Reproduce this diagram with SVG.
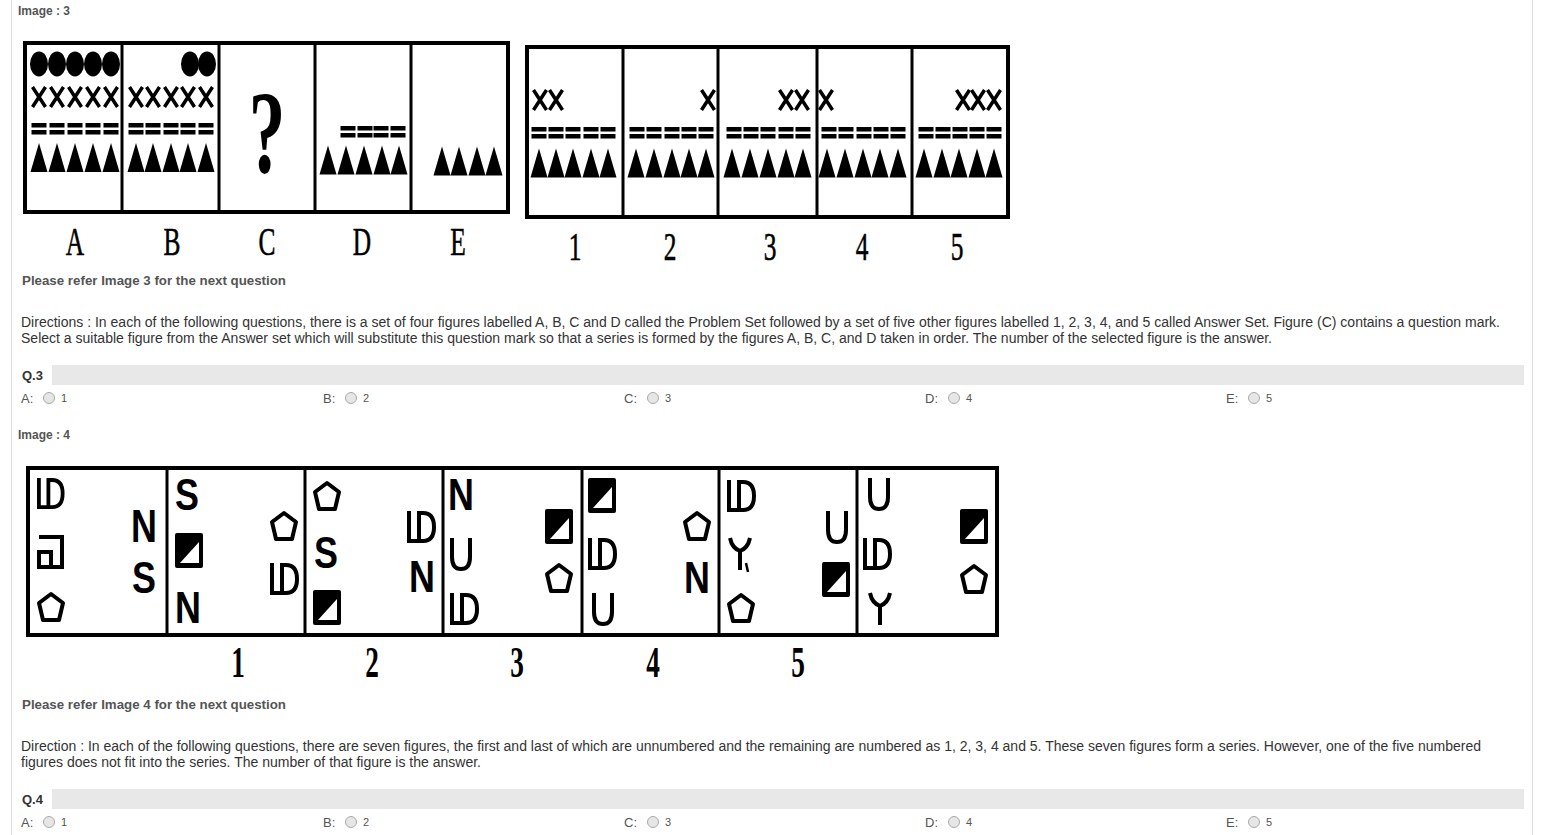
<svg xmlns="http://www.w3.org/2000/svg" width="1546" height="835" viewBox="0 0 1546 835">
<style>
.ui{font-family:"Liberation Sans",Arial,sans-serif;fill:#333;font-size:14px}
.hd{font-family:"Liberation Sans",Arial,sans-serif;fill:#555;font-size:12px;font-weight:bold}
.bd{font-family:"Liberation Sans",Arial,sans-serif;fill:#555;font-size:13px;font-weight:bold}
.q{font-family:"Liberation Sans",Arial,sans-serif;fill:#333;font-size:13px;font-weight:bold}
.opt{font-family:"Liberation Sans",Arial,sans-serif;fill:#555;font-size:13px}
.optn{font-family:"Liberation Sans",Arial,sans-serif;fill:#555;font-size:11px}
.bar{fill:#e8e8e8}
.radio{fill:#e6e6e6;stroke:#aaa;stroke-width:1}
.frame{fill:none;stroke:#000;stroke-width:4}
.div{stroke:#000;stroke-width:3}
.lbl{font-family:"Liberation Serif","Times New Roman",serif;font-size:41px;fill:#000;text-anchor:middle;stroke:#000;stroke-width:0.6}
.num4{font-family:"Liberation Serif","Times New Roman",serif;font-size:44px;font-weight:bold;fill:#000;text-anchor:middle}
.let{font-family:"Liberation Sans",Arial,sans-serif;font-size:46px;font-weight:bold;fill:#000;text-anchor:middle}
.stk{fill:none;stroke:#000;stroke-width:4}
</style>
<defs>
<ellipse id="circ" cx="0" cy="0" rx="9" ry="12.5" fill="#000"/>
<path id="xm" d="M-6.5,-10 L6.5,10 M6.5,-10 L-6.5,10" stroke="#000" stroke-width="3.5" fill="none"/>
<g id="eq"><rect x="-7.5" y="-6" width="15" height="4.5" fill="#000"/><rect x="-7.5" y="1" width="15" height="4.5" fill="#000"/></g>
<polygon id="tri" points="0,-14.5 8.5,14.5 -8.5,14.5" fill="#000"/>
<path id="ld" class="stk" d="M2,0 V30 H14 M12,0 V30 M12,2 H16 Q27,2 27,16 Q27,30 16,30 H12"/>
<polygon id="pent" class="stk" points="14,2 26,11 22,28 6,28 2,11" stroke-linejoin="round"/>
<g id="sqt"><rect x="0" y="0" width="28" height="35" rx="2" fill="#000"/><polygon points="5,30 24,9 24,30" fill="#fff"/></g>
<path id="u" class="stk" d="M2,0 V19 Q2,31 11,31 Q20,31 20,19 V0"/>
<path id="y" class="stk" d="M0,1 Q2,11 10,14 Q18,11 20,1 M10,14 V33"/>
<path id="boxs" class="stk" d="M1,2 H24 V32 H1 V17 H13 V32"/>
</defs>

<g id="page">
<line x1="11.5" y1="0" x2="11.5" y2="835" stroke="#ddd" stroke-width="1"/>
<line x1="1532.5" y1="0" x2="1532.5" y2="835" stroke="#ddd" stroke-width="1"/>
<text class="hd" x="18" y="15">Image : 3</text>
<text class="bd" x="22" y="285" textLength="264" lengthAdjust="spacingAndGlyphs">Please refer Image 3 for the next question</text>
<text class="ui" x="21" y="327" textLength="1479" lengthAdjust="spacingAndGlyphs">Directions : In each of the following questions, there is a set of four figures labelled A, B, C and D called the Problem Set followed by a set of five other figures labelled 1, 2, 3, 4, and 5 called Answer Set. Figure (C) contains a question mark.</text>
<text class="ui" x="21" y="343" textLength="1251" lengthAdjust="spacingAndGlyphs">Select a suitable figure from the Answer set which will substitute this question mark so that a series is formed by the figures A, B, C, and D taken in order. The number of the selected figure is the answer.</text>
<rect class="bar" x="52" y="365" width="1472" height="20"/>
<text class="q" x="22" y="380">Q.3</text>
<g id="opts3">
<text class="opt" x="21" y="403">A:</text><circle class="radio" cx="49" cy="398" r="5.5"/><text class="optn" x="61" y="402">1</text>
<text class="opt" x="323" y="403">B:</text><circle class="radio" cx="351" cy="398" r="5.5"/><text class="optn" x="363" y="402">2</text>
<text class="opt" x="624" y="403">C:</text><circle class="radio" cx="653" cy="398" r="5.5"/><text class="optn" x="665" y="402">3</text>
<text class="opt" x="925" y="403">D:</text><circle class="radio" cx="954" cy="398" r="5.5"/><text class="optn" x="966" y="402">4</text>
<text class="opt" x="1226" y="403">E:</text><circle class="radio" cx="1254" cy="398" r="5.5"/><text class="optn" x="1266" y="402">5</text>
</g>
<text class="hd" x="18" y="439">Image : 4</text>
<text class="bd" x="22" y="709" textLength="264" lengthAdjust="spacingAndGlyphs">Please refer Image 4 for the next question</text>
<text class="ui" x="21" y="751" textLength="1460" lengthAdjust="spacingAndGlyphs">Direction : In each of the following questions, there are seven figures, the first and last of which are unnumbered and the remaining are numbered as 1, 2, 3, 4 and 5. These seven figures form a series. However, one of the five numbered</text>
<text class="ui" x="21" y="767" textLength="460" lengthAdjust="spacingAndGlyphs">figures does not fit into the series. The number of that figure is the answer.</text>
<rect class="bar" x="52" y="789" width="1472" height="20"/>
<text class="q" x="22" y="804">Q.4</text>
<g id="opts4">
<text class="opt" x="21" y="827">A:</text><circle class="radio" cx="49" cy="822" r="5.5"/><text class="optn" x="61" y="826">1</text>
<text class="opt" x="323" y="827">B:</text><circle class="radio" cx="351" cy="822" r="5.5"/><text class="optn" x="363" y="826">2</text>
<text class="opt" x="624" y="827">C:</text><circle class="radio" cx="653" cy="822" r="5.5"/><text class="optn" x="665" y="826">3</text>
<text class="opt" x="925" y="827">D:</text><circle class="radio" cx="954" cy="822" r="5.5"/><text class="optn" x="966" y="826">4</text>
<text class="opt" x="1226" y="827">E:</text><circle class="radio" cx="1254" cy="822" r="5.5"/><text class="optn" x="1266" y="826">5</text>
</g>
</g>

<g id="problem-set">
<rect class="frame" x="25" y="43" width="483" height="169"/>
<line class="div" x1="122" y1="43" x2="122" y2="212"/>
<line class="div" x1="219" y1="43" x2="219" y2="212"/>
<line class="div" x1="315" y1="43" x2="315" y2="212"/>
<line class="div" x1="411" y1="43" x2="411" y2="212"/>
<g id="figA">
<use href="#circ" x="39" y="64"/><use href="#circ" x="57" y="64"/><use href="#circ" x="75" y="64"/><use href="#circ" x="93" y="64"/><use href="#circ" x="111" y="64"/>
<use href="#xm" x="39" y="97"/><use href="#xm" x="57" y="97"/><use href="#xm" x="75" y="97"/><use href="#xm" x="93" y="97"/><use href="#xm" x="111" y="97"/>
<use href="#eq" x="39" y="129"/><use href="#eq" x="57" y="129"/><use href="#eq" x="75" y="129"/><use href="#eq" x="93" y="129"/><use href="#eq" x="111" y="129"/>
<use href="#tri" x="39" y="157.5"/><use href="#tri" x="57" y="157.5"/><use href="#tri" x="75" y="157.5"/><use href="#tri" x="93" y="157.5"/><use href="#tri" x="111" y="157.5"/>
</g>
<g id="figB">
<use href="#circ" x="190" y="64"/><use href="#circ" x="207" y="64"/>
<use href="#xm" x="136" y="97"/><use href="#xm" x="153" y="97"/><use href="#xm" x="171" y="97"/><use href="#xm" x="188" y="97"/><use href="#xm" x="206" y="97"/>
<use href="#eq" x="136" y="129"/><use href="#eq" x="153" y="129"/><use href="#eq" x="171" y="129"/><use href="#eq" x="188" y="129"/><use href="#eq" x="206" y="129"/>
<use href="#tri" x="136" y="157.5"/><use href="#tri" x="153" y="157.5"/><use href="#tri" x="171" y="157.5"/><use href="#tri" x="188" y="157.5"/><use href="#tri" x="206" y="157.5"/>
</g>
<g id="figC">
<text class="lbl" transform="translate(267,172) scale(0.62,1)" style="font-size:118px;font-weight:bold;stroke-width:0">?</text>
</g>
<g id="figD">
<use href="#eq" x="348" y="132"/><use href="#eq" x="365" y="132"/><use href="#eq" x="381" y="132"/><use href="#eq" x="398" y="132"/>
<use href="#tri" x="328" y="160"/><use href="#tri" x="346" y="160"/><use href="#tri" x="364" y="160"/><use href="#tri" x="382" y="160"/><use href="#tri" x="399" y="160"/>
</g>
<g id="figE">
<use href="#tri" x="442" y="161"/><use href="#tri" x="459" y="161"/><use href="#tri" x="477" y="161"/><use href="#tri" x="494" y="161"/>
</g>
<g id="labels3a">
<text class="lbl" transform="translate(75,255) scale(0.62,1)">A</text>
<text class="lbl" transform="translate(172,255) scale(0.62,1)">B</text>
<text class="lbl" transform="translate(267,255) scale(0.62,1)">C</text>
<text class="lbl" transform="translate(362,255) scale(0.62,1)">D</text>
<text class="lbl" transform="translate(458,255) scale(0.62,1)">E</text>
</g>
</g>

<g id="answer-set">
<rect class="frame" x="527" y="47" width="481" height="170"/>
<line class="div" x1="623" y1="47" x2="623" y2="217"/>
<line class="div" x1="718" y1="47" x2="718" y2="217"/>
<line class="div" x1="817" y1="47" x2="817" y2="217"/>
<line class="div" x1="912" y1="47" x2="912" y2="217"/>
<g id="ans1">
<use href="#xm" x="540" y="100"/><use href="#xm" x="556" y="100"/>
<use href="#eq" x="539" y="133"/><use href="#eq" x="556" y="133"/><use href="#eq" x="573" y="133"/><use href="#eq" x="591" y="133"/><use href="#eq" x="608" y="133"/>
<use href="#tri" x="539" y="163"/><use href="#tri" x="556" y="163"/><use href="#tri" x="573" y="163"/><use href="#tri" x="591" y="163"/><use href="#tri" x="608" y="163"/>
</g>
<g id="ans2">
<use href="#xm" x="708" y="100"/>
<use href="#eq" x="637" y="133"/><use href="#eq" x="654" y="133"/><use href="#eq" x="672" y="133"/><use href="#eq" x="689" y="133"/><use href="#eq" x="706" y="133"/>
<use href="#tri" x="636" y="163"/><use href="#tri" x="654" y="163"/><use href="#tri" x="672" y="163"/><use href="#tri" x="689" y="163"/><use href="#tri" x="706" y="163"/>
</g>
<g id="ans3">
<use href="#xm" x="786" y="100"/><use href="#xm" x="802" y="100"/>
<use href="#eq" x="734" y="133"/><use href="#eq" x="751" y="133"/><use href="#eq" x="768" y="133"/><use href="#eq" x="786" y="133"/><use href="#eq" x="803" y="133"/>
<use href="#tri" x="732" y="163"/><use href="#tri" x="750" y="163"/><use href="#tri" x="768" y="163"/><use href="#tri" x="786" y="163"/><use href="#tri" x="803" y="163"/>
</g>
<g id="ans4">
<use href="#xm" x="826" y="100"/>
<use href="#eq" x="829" y="133"/><use href="#eq" x="846" y="133"/><use href="#eq" x="864" y="133"/><use href="#eq" x="881" y="133"/><use href="#eq" x="898" y="133"/>
<use href="#tri" x="827" y="163"/><use href="#tri" x="845" y="163"/><use href="#tri" x="863" y="163"/><use href="#tri" x="880" y="163"/><use href="#tri" x="898" y="163"/>
</g>
<g id="ans5">
<use href="#xm" x="963" y="100"/><use href="#xm" x="978" y="100"/><use href="#xm" x="994" y="100"/>
<use href="#eq" x="926" y="133"/><use href="#eq" x="943" y="133"/><use href="#eq" x="960" y="133"/><use href="#eq" x="977" y="133"/><use href="#eq" x="994" y="133"/>
<use href="#tri" x="924" y="163"/><use href="#tri" x="942" y="163"/><use href="#tri" x="959" y="163"/><use href="#tri" x="977" y="163"/><use href="#tri" x="994" y="163"/>
</g>
<g id="labels3b">
<text class="lbl" transform="translate(575,260) scale(0.62,1)">1</text>
<text class="lbl" transform="translate(670,260) scale(0.62,1)">2</text>
<text class="lbl" transform="translate(770,260) scale(0.62,1)">3</text>
<text class="lbl" transform="translate(862,260) scale(0.62,1)">4</text>
<text class="lbl" transform="translate(957,260) scale(0.62,1)">5</text>
</g>
</g>

<g id="image4">
<rect class="frame" x="28" y="468" width="969" height="167"/>
<line class="div" x1="167" y1="468" x2="167" y2="635"/>
<line class="div" x1="305" y1="468" x2="305" y2="635"/>
<line class="div" x1="443" y1="468" x2="443" y2="635"/>
<line class="div" x1="582" y1="468" x2="582" y2="635"/>
<line class="div" x1="719" y1="468" x2="719" y2="635"/>
<line class="div" x1="857" y1="468" x2="857" y2="635"/>
<g id="fig4-0">
<use href="#ld" transform="translate(37,478) scale(0.95,0.97)"/>
<use href="#boxs" x="38" y="535"/>
<use href="#pent" x="37" y="592"/>
<text class="let" transform="translate(144,542) scale(0.78,1)">N</text>
<text class="let" transform="translate(144,593) scale(0.78,0.95)">S</text>
</g>
<g id="fig4-1">
<text class="let" transform="translate(187,510) scale(0.78,0.95)">S</text>
<use href="#sqt" x="175" y="533"/>
<text class="let" transform="translate(188,623) scale(0.78,0.95)">N</text>
<use href="#pent" x="270" y="511"/>
<use href="#ld" x="270" y="563"/>
</g>
<g id="fig4-2">
<use href="#pent" x="313" y="481"/>
<text class="let" transform="translate(326,568) scale(0.78,0.95)">S</text>
<use href="#sqt" x="313" y="590"/>
<use href="#ld" x="407" y="511"/>
<text class="let" transform="translate(422,592) scale(0.78,0.95)">N</text>
</g>
<g id="fig4-3">
<text class="let" transform="translate(461,510) scale(0.78,0.95)">N</text>
<use href="#u" x="450" y="538"/>
<use href="#ld" x="450" y="593"/>
<use href="#sqt" x="545" y="509"/>
<use href="#pent" x="545" y="563"/>
</g>
<g id="fig4-4">
<use href="#sqt" x="588" y="478"/>
<use href="#ld" x="588" y="538"/>
<use href="#u" x="592" y="593"/>
<use href="#pent" x="683" y="511"/>
<text class="let" transform="translate(697,593) scale(0.78,0.95)">N</text>
</g>
<g id="fig4-5">
<use href="#ld" x="727" y="480"/>
<use href="#y" x="730" y="537"/>
<path d="M746,563 L748,572" stroke="#000" stroke-width="2.5"/>
<use href="#pent" x="727" y="593"/>
<use href="#u" x="826" y="511"/>
<use href="#sqt" x="822" y="562"/>
</g>
<g id="fig4-6">
<use href="#u" x="868" y="478"/>
<use href="#ld" x="863" y="538"/>
<use href="#y" x="870" y="592"/>
<use href="#sqt" x="960" y="509"/>
<use href="#pent" x="960" y="564"/>
</g>
<g id="labels4">
<text class="num4" transform="translate(238,677) scale(0.62,1)">1</text>
<text class="num4" transform="translate(372,677) scale(0.62,1)">2</text>
<text class="num4" transform="translate(517,677) scale(0.62,1)">3</text>
<text class="num4" transform="translate(653,677) scale(0.62,1)">4</text>
<text class="num4" transform="translate(798,677) scale(0.62,1)">5</text>
</g>
</g>
</svg>
